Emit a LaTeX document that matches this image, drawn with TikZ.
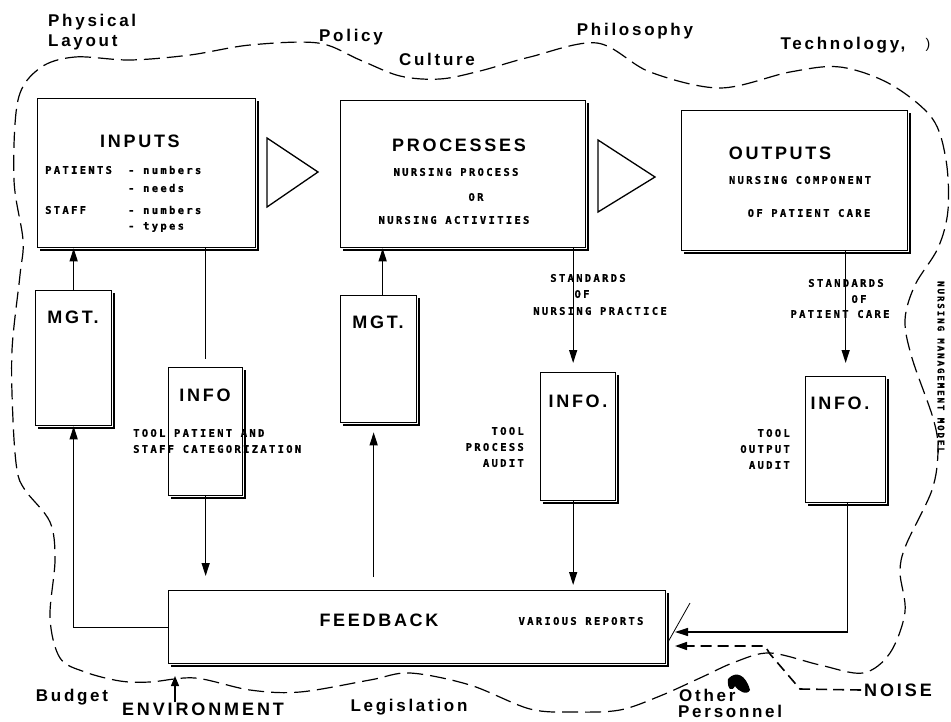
\documentclass[tikz,border=0pt]{standalone}
\usepackage{fontspec}
\setmainfont{Liberation Sans}
\newfontfamily\labfont[LetterSpace=16]{Liberation Sans}
\newfontfamily\headfont[LetterSpace=15]{Liberation Sans}
\newfontfamily\letfont[LetterSpace=22,FakeBold=1]{DejaVu Sans Mono}
\usetikzlibrary{arrows.meta}

\tikzset{
  blockbox/.style={draw, line width=1.3pt, inner sep=0pt, anchor=north west},
  boxshade/.style={line width=2.2pt},
  head/.style={font=\headfont\bfseries\fontsize{18}{20}\selectfont, inner sep=0pt},
  envlab/.style={font=\labfont\bfseries\fontsize{17}{20}\selectfont, inner sep=0pt},
  biglab/.style={font=\labfont\bfseries\fontsize{18}{20}\selectfont, inner sep=0pt},
  letter/.style={font=\letfont\bfseries\fontsize{10.5}{16}\selectfont, inner sep=0pt},
  flow/.style={line width=1.3pt},
  flowarr/.style={line width=1.3pt, -{Triangle[length=13pt,width=8pt]}},
  envline/.style={line width=1.2pt, dash pattern=on 16pt off 7pt},
  noiseline/.style={line width=1.6pt, dash pattern=on 11pt off 6pt},
  wedge/.style={draw, line width=1.3pt},
}
\newcommand{\shadeedges}[1]{%
  \draw[boxshade] ([xshift=2pt,yshift=-3pt]#1.north east) -- ([xshift=2pt,yshift=-2pt]#1.south east)
    -- ([xshift=3pt,yshift=-2pt]#1.south west);}

\begin{document}
\begin{tikzpicture}[x=1pt,y=-1pt]
\useasboundingbox[fill=white] (0,0) rectangle (951,721);

% surrounding environment
\draw[envline] plot[smooth cycle, tension=0.55] coordinates {
 (40,68) (75,57) (130,60) (190,55) (250,45) (318,43) (360,60) (400,76) (440,79)
 (480,71) (530,57) (597,43) (650,72) (720,88) (790,72) (840,67) (890,84) (932,118)
 (946,160) (948,210) (938,248) (915,285) (905,320) (912,358) (933,418) (938,450)
 (932,490) (906,545) (900,572) (905,612) (890,653) (863,673) (820,665) (770,653)
 (735,662) (700,678) (660,696) (620,710) (575,712) (530,709) (470,685) (410,673)
 (370,680) (300,692) (250,690) (195,678) (150,682) (120,681) (85,672) (60,658)
 (50,618) (55,560) (50,522) (25,490) (17,470) (13,420) (12,350) (20,275) (23,240)
 (14,180) (18,100)};

% main blocks
\node[blockbox, minimum width=218pt, minimum height=149pt] (inputs) at (37,98) {};
\node[blockbox, minimum width=245pt, minimum height=147pt] (proc) at (340,100) {};
\node[blockbox, minimum width=226pt, minimum height=140pt] (outputs) at (681,110) {};
\node[blockbox, minimum width=76pt, minimum height=135pt] (mgta) at (35,290) {};
\node[blockbox, minimum width=76pt, minimum height=127pt] (mgtb) at (340,295) {};
\node[blockbox, minimum width=74pt, minimum height=128pt] (infoa) at (168,367) {};
\node[blockbox, minimum width=75pt, minimum height=128pt] (infob) at (540,372) {};
\node[blockbox, minimum width=80pt, minimum height=126pt] (infoc) at (805,376) {};
\node[blockbox, minimum width=497pt, minimum height=73pt] (fb) at (168,590) {};
\foreach \b in {inputs,proc,outputs,mgta,mgtb,infoa,infob,infoc,fb} {\shadeedges{\b}}

% wedges between the stages
\draw[wedge] (267,138) coordinate (wa1) -- (318,172) coordinate (wa2) -- (267,207) coordinate (wa3) -- cycle;
\draw[wedge] (598,140) coordinate (wb1) -- (655,177) coordinate (wb2) -- (598,212) coordinate (wb3) -- cycle;

% block texts
\node[head] (tin) at (140,141) {INPUTS};
\node[letter, anchor=west] (tpat) at (45,170) {PATIENTS};
\node[letter, anchor=west] (tpat1) at (128,170) {- numbers};
\node[letter, anchor=west] (tpat2) at (128,188) {- needs};
\node[letter, anchor=west] (tstf) at (45,210) {STAFF};
\node[letter, anchor=west] (tstf1) at (128,210) {- numbers};
\node[letter, anchor=west] (tstf2) at (128,227) {- types};

\node[head] (tproc) at (459,145) {PROCESSES};
\node[letter] (tproc1) at (456,172) {NURSING PROCESS};
\node[letter] (tproc2) at (476,197) {OR};
\node[letter] (tproc3) at (454,220) {NURSING ACTIVITIES};

\node[head] (tout) at (780,153) {OUTPUTS};
\node[letter] (tout1) at (800,180) {NURSING COMPONENT};
\node[letter] (tout2) at (809,213) {OF PATIENT CARE};

\node[head] (tmgta) at (73,317) {MGT.};
\node[head] (tmgtb) at (378,322) {MGT.};
\node[head] (tinfoa) at (205,395) {INFO};
\node[head] (tinfob) at (578,401) {INFO.};
\node[head] (tinfoc) at (840,403) {INFO.};
\node[head] (tfb) at (379,620) {FEEDBACK};
\node[letter] (tfb1) at (581,621) {VARIOUS REPORTS};

% tool notes
\node[letter, anchor=west, align=left] (toola) at (133,441) {TOOL PATIENT AND\\STAFF CATEGORIZATION};
\node[letter, anchor=east, align=right] (toolb) at (524,447) {TOOL\\PROCESS\\AUDIT};
\node[letter, anchor=east, align=right] (toolc) at (790,449) {TOOL\\OUTPUT\\AUDIT};

% standards notes
\node[letter] (stda1) at (588,278) {STANDARDS};
\node[letter] (stda2) at (582,294) {OF};
\node[letter] (stda3) at (600,311) {NURSING PRACTICE};
\node[letter] (stdb1) at (846,283) {STANDARDS};
\node[letter] (stdb2) at (859,299) {OF};
\node[letter] (stdb3) at (840,314) {PATIENT CARE};

% connectors
\draw[flowarr] (mgta.north) -- (mgta.north |- inputs.south);
\draw[flowarr] (fb.west) -| (mgta.south);
\draw[flow] (inputs.south -| infoa.north) -- ([yshift=8pt]infoa.north);
\draw[flowarr, shorten >=14pt] (infoa.south) -- (infoa.south |- fb.north);
\draw[flowarr, shorten <=13pt, shorten >=9pt] ([xshift=-5pt]mgtb.south |- fb.north) -- ([xshift=-5pt]mgtb.south);
\draw[flowarr] ([xshift=4pt]mgtb.north) -- ([xshift=4pt]mgtb.north |- proc.south);
\draw[flowarr, shorten >=9pt] ([xshift=-5pt]infob.north |- proc.south) -- ([xshift=-5pt]infob.north);
\draw[flowarr, shorten >=5pt] ([xshift=-5pt]infob.south) -- ([xshift=-5pt]infob.south |- fb.north);
\draw[flowarr, shorten >=13pt] (outputs.south -| infoc.north) -- (infoc.north);
\coordinate (fbin) at (675,632);
\draw[flowarr] ([xshift=2pt]infoc.south) |- (fbin);

% noise
\node[biglab] (noise) at (898,690) {NOISE};
\coordinate (nz1) at (800,689);
\coordinate (nz2) at (770,654);
\coordinate (nz3) at (765,646);
\coordinate (nzin) at (675,646);
\draw[noiseline, -{Triangle[length=12pt,width=8pt]}] ([xshift=-3pt]noise.west) -- (nz1) -- (nz2) -- (nz3) -- (nzin);
\draw[line width=0.8pt] (690,603) -- (668,642);

% environment labels
\node[envlab, anchor=west] (lphys) at (48,22) {Physical};
\node[envlab, anchor=west] (llay) at (48,42) {Layout};
\node[envlab] (lpol) at (351,37) {Policy};
\node[envlab] (lcul) at (437,59) {Culture};
\node[envlab] (lphil) at (635,31) {Philosophy};
\node[envlab] (ltech) at (843,45) {Technology,};
\node[envlab, font=\fontsize{14}{16}\selectfont] (lpar) at (928,45) {)};
\node[envlab] (lbud) at (72,697) {Budget};
\node[biglab] (lenv) at (203,709) {ENVIRONMENT};
\node[envlab] (lleg) at (409,707) {Legislation};
\node[envlab, anchor=west] (loth) at (679,695) {Other};
\node[envlab, anchor=west] (lper) at (678,711) {Personnel};
\draw[flowarr, -{Triangle[length=10pt,width=8pt]}] (lenv.north -| 175,0) -- (175,676);
\fill (728,679) .. controls (736,670) and (746,675) .. (750,690) .. controls (747,696) and (738,691) .. (735,686) .. controls (732,692) and (727,690) .. cycle;

% model title
\node[letter, font=\letfont\bfseries\fontsize{9}{10}\selectfont, rotate=-90] (title) at (941,367) {NURSING MANAGEMENT MODEL};
\end{tikzpicture}
\end{document}
